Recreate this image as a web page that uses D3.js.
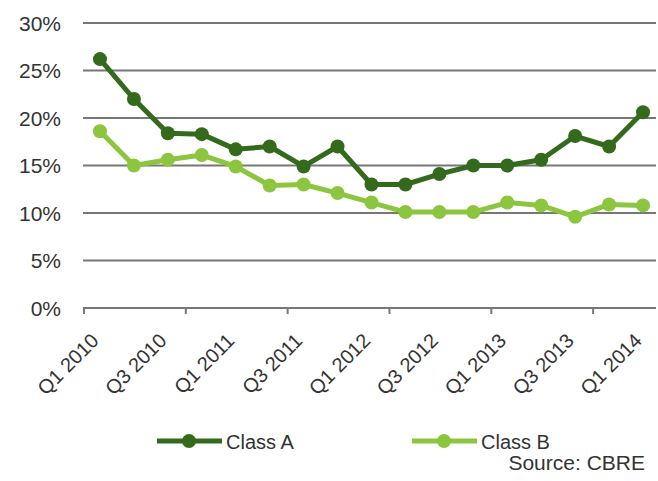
<!DOCTYPE html>
<html><head><meta charset="utf-8">
<script src="https://cdn.jsdelivr.net/npm/d3@7"></script>
<style>
body{margin:0;background:#fff;}
text{font-family:"Liberation Sans",Arial,sans-serif;fill:#333;}
</style></head>
<body><svg id="c" width="658" height="481"></svg>
<script>
const quarters = ["Q1 2010","Q2 2010","Q3 2010","Q4 2010","Q1 2011","Q2 2011","Q3 2011","Q4 2011","Q1 2012","Q2 2012","Q3 2012","Q4 2012","Q1 2013","Q2 2013","Q3 2013","Q4 2013","Q1 2014"];
const classA = [26.2,22.0,18.4,18.3,16.7,17.0,14.9,17.0,13.0,13.0,14.1,15.0,15.0,15.6,18.1,17.0,20.6];
const classB = [18.6,15.0,15.6,16.1,14.9,12.9,13.0,12.1,11.1,10.1,10.1,10.1,11.1,10.8,9.6,10.9,10.8];
const yTicks = [0,5,10,15,20,25,30];
const seriesNames = ["Class A","Class B"];
const colors = ["#336a1c","#8cc63f"];

const svg = d3.select("#c");
const pL = 83, pR = 660, pT = 23, pB = 308;
const x = d3.scaleBand().domain(quarters).range([pL,pR]);
const y = d3.scaleLinear().domain([0,30]).range([pB,pT]);

// gridlines
svg.append("g").selectAll("line").data(yTicks).join("line")
  .attr("x1",pL).attr("x2",656).attr("y1",d=>y(d)).attr("y2",d=>y(d))
  .attr("stroke","#777").attr("stroke-width",2);
// y labels
svg.append("g").selectAll("text").data(yTicks).join("text")
  .attr("x",61).attr("y",d=>y(d)+7.5).attr("text-anchor","end")
  .attr("font-size",21).text(d=>d+"%");
// x tick marks every 3 categories
const tickIdx = d3.range(0,quarters.length,3);
svg.append("g").selectAll("line").data(tickIdx).join("line")
  .attr("x1",i=>x(quarters[i])+1).attr("x2",i=>x(quarters[i])+1)
  .attr("y1",pB).attr("y2",pB+6).attr("stroke","#777").attr("stroke-width",2);
// x labels every 2 categories
const labIdx = d3.range(0,quarters.length,2);
svg.append("g").selectAll("text").data(labIdx).join("text")
  .attr("transform",i=>`translate(${x(quarters[i])+x.bandwidth()/2},${pB+34}) rotate(-45)`)
  .attr("text-anchor","end").attr("font-size",20).text(i=>quarters[i]);

const line = d3.line().x((d,i)=>x(quarters[i])+x.bandwidth()/2).y(d=>y(d));
[classA,classB].forEach((s,k)=>{
  const c = colors[k];
  svg.append("path").datum(s).attr("d",line).attr("fill","none")
    .attr("stroke",c).attr("stroke-width",5).attr("stroke-linejoin","round");
  svg.append("g").selectAll("circle").data(s).join("circle")
    .attr("cx",(d,i)=>x(quarters[i])+x.bandwidth()/2).attr("cy",d=>y(d))
    .attr("r",7).attr("fill",c);
});

// legend
const lg = [{x:157,name:seriesNames[0],c:colors[0]},{x:412,name:seriesNames[1],c:colors[1]}];
lg.forEach(l=>{
  svg.append("line").attr("x1",l.x).attr("x2",l.x+65).attr("y1",441).attr("y2",441)
    .attr("stroke",l.c).attr("stroke-width",5);
  svg.append("circle").attr("cx",l.x+32).attr("cy",441).attr("r",7).attr("fill",l.c);
  svg.append("text").attr("x",l.x+69).attr("y",448.5).attr("font-size",20).text(l.name);
});
svg.append("text").attr("x",645).attr("y",470).attr("text-anchor","end")
  .attr("font-size",21).text("Source: CBRE");
</script></body></html>
